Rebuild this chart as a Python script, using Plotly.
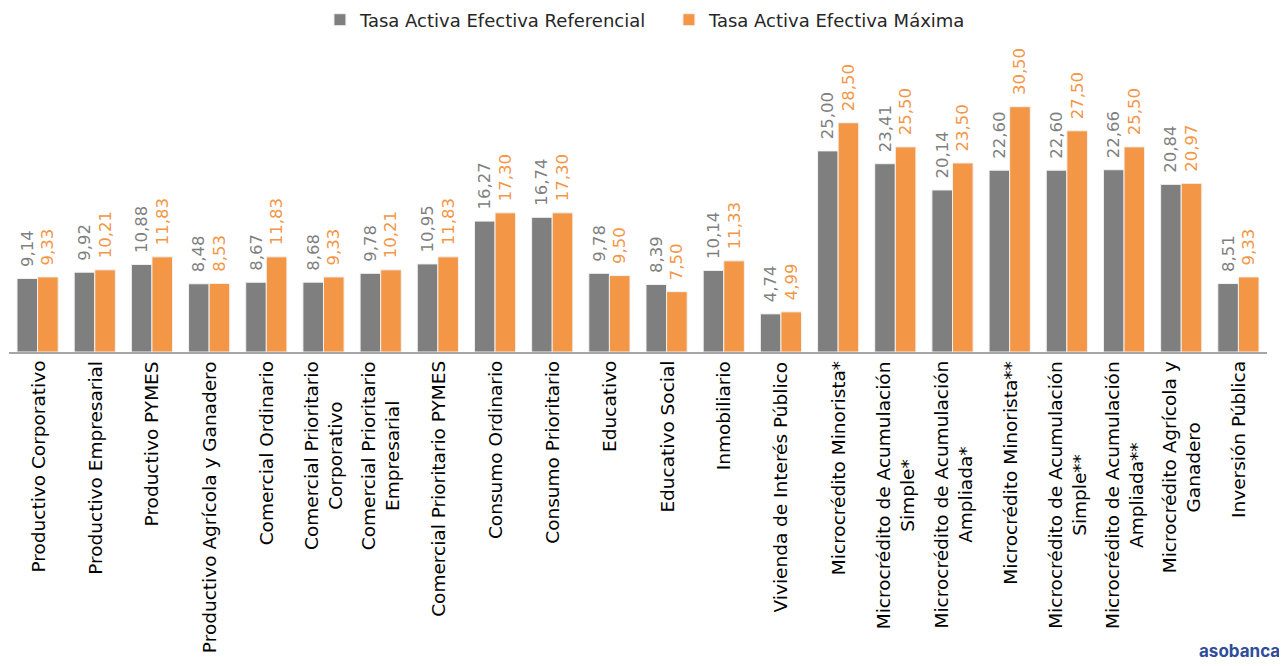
import plotly.graph_objects as go

categorias = [
    "Productivo Corporativo",
    "Productivo Empresarial",
    "Productivo PYMES",
    "Productivo Agrícola y Ganadero",
    "Comercial Ordinario",
    "Comercial Prioritario<br>Corporativo",
    "Comercial Prioritario<br>Empresarial",
    "Comercial Prioritario PYMES",
    "Consumo Ordinario",
    "Consumo Prioritario",
    "Educativo",
    "Educativo Social",
    "Inmobiliario",
    "Vivienda de Interés Público",
    "Microcrédito Minorista*",
    "Microcrédito de Acumulación<br>Simple*",
    "Microcrédito de Acumulación<br>Ampliada*",
    "Microcrédito Minorista**",
    "Microcrédito de Acumulación<br>Simple**",
    "Microcrédito de Acumulación<br>Ampliada**",
    "Microcrédito Agrícola y<br>Ganadero",
    "Inversión Pública",
]

tasa_referencial = [9.14, 9.92, 10.88, 8.48, 8.67, 8.68, 9.78, 10.95, 16.27, 16.74, 9.78,
                    8.39, 10.14, 4.74, 25.00, 23.41, 20.14, 22.60, 22.60, 22.66, 20.84, 8.51]
tasa_maxima = [9.33, 10.21, 11.83, 8.53, 11.83, 9.33, 10.21, 11.83, 17.30, 17.30, 9.50,
               7.50, 11.33, 4.99, 28.50, 25.50, 23.50, 30.50, 27.50, 25.50, 20.97, 9.33]

GRIS = "#7F7F7F"
NARANJA = "#F39646"
FONT = "DejaVu Sans"

fig = go.Figure()
for nombre, valores, color in [
    ("Tasa Activa Efectiva Referencial", tasa_referencial, GRIS),
    ("Tasa Activa Efectiva Máxima", tasa_maxima, NARANJA),
]:
    # el espacio inicial separa la etiqueta girada del extremo de la barra
    fig.add_trace(go.Bar(
        x=categorias, y=valores, name=nombre,
        marker=dict(color=color, line=dict(color="#F2F2F2", width=1)),
        texttemplate="\u00a0\u2009%{y:.2f}", textposition="outside", textangle=-90,
        textfont=dict(color=color, size=16.5, family=FONT),
        cliponaxis=False, constraintext="none",
    ))

# etiquetas del eje x como anotaciones para centrar las líneas
for cat in categorias:
    fig.add_annotation(
        x=cat, xref="x", y=0, yref="paper", yshift=-7,
        text=cat, textangle=-90, align="center",
        xanchor="center", yanchor="top", showarrow=False,
        font=dict(size=18.5, color="#000000", family=FONT),
    )

# la página añade 8 px de margen al cuerpo: la figura se reduce en esa medida
fig.update_layout(
    width=1279, height=658,
    margin=dict(l=1, r=20, t=52, b=314, autoexpand=False),
    barmode="group", bargap=0.28, bargroupgap=0,
    separators=",.",
    plot_bgcolor="white", paper_bgcolor="white",
    font=dict(family=FONT, color="#000000"),
    showlegend=True,
    legend=dict(orientation="h", x=0.5246, xanchor="center", y=1.137, yref="paper",
                yanchor="middle", font=dict(size=18, color="#262626"),
                itemwidth=30, entrywidth=304, traceorder="normal"),
    xaxis=dict(showticklabels=False, automargin=False,
               showline=True, linecolor="#A6A6A6", linewidth=2, ticks=""),
    yaxis=dict(range=[0, 36.3], visible=False, showgrid=False, automargin=False),
)

fig.add_annotation(
    text="<b>asobanca</b>", xref="paper", yref="paper", x=1.012, y=-1.065,
    xanchor="right", yanchor="bottom", showarrow=False,
    font=dict(size=17, color="#2E4D9A", family="Inter"),
)

fig.write_html("out.html")
